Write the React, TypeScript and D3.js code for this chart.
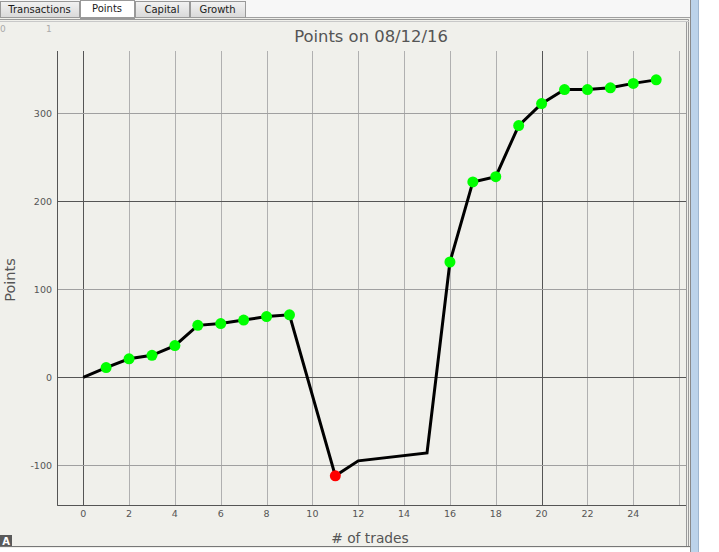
import React from "react";
import * as d3 from "d3";

const W = 719;
const H = 552;

const tabs = ["Transactions", "Points", "Capital", "Growth"];
const title = "Points on 08/12/16";
const xLabel = "# of trades";
const yLabel = "Points";

const trades = [0, 1, 2, 3, 4, 5, 6, 7, 8, 9, 11, 12, 15, 16, 17, 18, 19, 20, 21, 22, 23, 24, 25];
const points = [0, 11, 21, 25, 36, 59, 61, 65, 69, 71, -112, -95, -86, 131, 222, 228, 286, 311, 327, 327, 329, 334, 338];
const markers = ["", "g", "g", "g", "g", "g", "g", "g", "g", "g", "r", "", "", "g", "g", "g", "g", "g", "g", "g", "g", "g", "g"];

const xTicks = [0, 2, 4, 6, 8, 10, 12, 14, 16, 18, 20, 22, 24];
const xGrid = [0, 2, 4, 6, 8, 10, 12, 14, 16, 18, 20, 22, 24, 26];
const yTicks = [-100, 0, 100, 200, 300];
const xMajor = [0, 20];
const yMajor = [0, 200];

const plot = { left: 58, right: 686, top: 51, bottom: 505.3 };

export default function App() {
  const x = d3.scaleLinear().domain([-1.1, 26.3]).range([plot.left, plot.right]);
  const y = d3.scaleLinear().domain([-145.5, 370.8]).range([plot.bottom, plot.top]);
  const line = d3
    .line<number>()
    .x((_, i) => x(trades[i]))
    .y((d) => y(d));

  const tabX = [0, 80, 135, 190, 246];
  const bg = "#f0f0eb";
  const txt = "#555";

  return (
    <svg
      width={W}
      height={H}
      style={{ position: "absolute", left: 0, top: 0, display: "block" }}
      fontFamily="'DejaVu Sans', sans-serif"
    >
      <rect x={0} y={0} width={W} height={H} fill="#ffffff" />
      <rect x={0} y={0} width={690} height={18} fill="#f7f7f7" />
      <rect x={0} y={18} width={690} height={530} fill={bg} />
      {tabs.map((t, i) => {
        const x0 = tabX[i];
        const x1 = tabX[i + 1] - 1;
        const sel = i === 1;
        return (
          <g key={t}>
            <defs>
              <linearGradient id={`tg${i}`} x1="0" y1="0" x2="0" y2="1">
                <stop offset="0" stopColor={sel ? "#ffffff" : "#f2f2f2"} />
                <stop offset="1" stopColor={sel ? "#ffffff" : "#d9d9d9"} />
              </linearGradient>
            </defs>
            <rect
              x={x0 + 0.5}
              y={sel ? 0.5 : 1.5}
              width={x1 - x0}
              height={sel ? 18 : 16}
              fill={`url(#tg${i})`}
              stroke="#999"
              strokeWidth={1}
            />
            <text
              x={(x0 + x1) / 2}
              y={sel ? 12 : 13}
              textAnchor="middle"
              fontSize={10}
              fill="#1a1a1a"
            >
              {t}
            </text>
          </g>
        );
      })}
      <line x1={246} x2={690} y1={17.5} y2={17.5} stroke="#a0a0a0" />
      <path d="M -1 19.5 H 688.5 V 546.5" fill="none" stroke="#9a9a9a" />
      <path d="M -1 17.5 H 246" fill="none" stroke="#9a9a9a" />
      <line x1={686.5} x2={686.5} y1={21} y2={546} stroke="#9a9a9a" />
      <line x1={0} x2={689} y1={21.5} y2={21.5} stroke="#c8c8c8" />
      <line x1={0} x2={690} y1={546.5} y2={546.5} stroke="#777" />
      <line x1={690.5} x2={690.5} y1={0} y2={H} stroke="#8a8a8a" />
      <rect x={691} y={0} width={8} height={H} fill="#bcd3ea" />
      <line x1={698.5} x2={698.5} y1={0} y2={H} stroke="#9fb6cf" />
      <text x={0} y={32} fontSize={9} fill="#aaa">0</text>
      <text x={46} y={32} fontSize={9} fill="#aaa">1</text>
      <text x={371} y={42} textAnchor="middle" fontSize={16.4} fill={txt}>
        {title}
      </text>
      {xGrid.map((v) => (
        <line
          key={`gx${v}`}
          x1={Math.round(x(v)) + 0.5}
          x2={Math.round(x(v)) + 0.5}
          y1={plot.top}
          y2={plot.bottom}
          stroke={xMajor.includes(v) ? "#555" : "#b0b0b0"}
          strokeWidth={1}
        />
      ))}
      {yTicks.map((v) => (
        <line
          key={`gy${v}`}
          x1={plot.left}
          x2={plot.right}
          y1={Math.round(y(v)) + 0.5}
          y2={Math.round(y(v)) + 0.5}
          stroke={yMajor.includes(v) ? "#555" : "#a0a0a0"}
          strokeWidth={1}
        />
      ))}
      <line x1={plot.left - 0.5} x2={plot.left - 0.5} y1={plot.top} y2={plot.bottom + 0.5} stroke="#555" />
      <line x1={plot.left - 0.5} x2={plot.right} y1={Math.round(plot.bottom) + 0.5} y2={Math.round(plot.bottom) + 0.5} stroke="#555" />
      {yTicks.map((v) => (
        <text
          key={`ty${v}`}
          x={52}
          y={y(v) + 3.5}
          textAnchor="end"
          fontSize={9.5}
          fill={txt}
        >
          {v}
        </text>
      ))}
      {xTicks.map((v) => (
        <text
          key={`tx${v}`}
          x={x(v)}
          y={517}
          textAnchor="middle"
          fontSize={9.5}
          fill={txt}
        >
          {v}
        </text>
      ))}
      <text x={370} y={543} textAnchor="middle" fontSize={13.8} fill={txt}>
        {xLabel}
      </text>
      <text
        transform={`translate(14.5, 280) rotate(-90)`}
        textAnchor="middle"
        fontSize={14.5}
        fill={txt}
      >
        {yLabel}
      </text>
      <path d={line(points) || ""} fill="none" stroke="#000" strokeWidth={3} strokeLinejoin="miter" />
      {points.map((p, i) =>
        markers[i] ? (
          <circle
            key={`m${i}`}
            cx={x(trades[i])}
            cy={y(p)}
            r={5.5}
            fill={markers[i] === "g" ? "#00ff00" : "#ff0000"}
          />
        ) : null
      )}
      <rect x={0} y={535} width={12} height={11} fill="#5a5a5a" />
      <text x={6} y={544.5} textAnchor="middle" fontSize={10} fontWeight="bold" fill="#fff">A</text>
    </svg>
  );
}
